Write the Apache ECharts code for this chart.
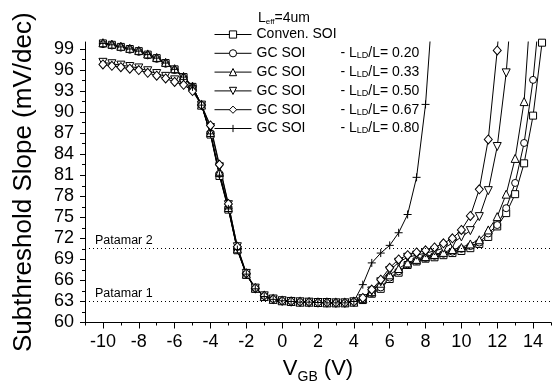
<!DOCTYPE html>
<html>
<head>
<meta charset="utf-8">
<script src="https://cdn.jsdelivr.net/npm/echarts@6/dist/echarts.min.js"></script>
<style>
  html, body { margin: 0; padding: 0; background: #fff; }
  #chart { width: 554px; height: 385px; }
</style>
</head>
<body>
<div id="chart"></div>
<script>
// gate bias values (V)
var vgb = [-10, -9.5, -9, -8.5, -8, -7.5, -7, -6.5, -6, -5.5, -5, -4.5, -4, -3.5, -3, -2.5, -2, -1.5, -1, -0.5,
  0, 0.5, 1, 1.5, 2, 2.5, 3, 3.5, 4, 4.5, 5, 5.5, 6, 6.5, 7, 7.5, 8, 8.5, 9, 9.5,
  10, 10.5, 11, 11.5, 12, 12.5, 13, 13.5, 14, 14.5];

// subthreshold slope (mV/dec)
var conven = [99.8, 99.6, 99.3, 99.0, 98.7, 98.2, 97.7, 97.0, 96.1, 95.0, 93.6, 91.0, 86.8, 80.9, 76.1, 70.3, 66.8, 64.8, 63.7, 63.3,
  63.1, 63.0, 62.9, 62.9, 62.85, 62.8, 62.8, 62.8, 62.9, 63.2, 64.1, 64.8, 66.2, 67.1, 68.2, 68.7, 69.1, 69.3, 69.6, 69.9,
  70.2, 70.6, 71.2, 72.2, 73.7, 75.6, 78.3, 82.7, 89.5, 99.9];
var gc020 = [99.7, 99.5, 99.2, 98.9, 98.6, 98.1, 97.6, 96.9, 96.0, 94.9, 93.5, 91.0, 87.0, 81.2, 76.3, 70.4, 66.9, 64.8, 63.7, 63.3,
  63.1, 63.0, 62.9, 62.9, 62.85, 62.8, 62.8, 62.8, 62.9, 63.3, 64.2, 65.0, 66.4, 67.3, 68.3, 68.8, 69.2, 69.5, 69.8, 70.1,
  70.5, 70.9, 71.4, 72.7, 73.9, 76.3, 79.9, 85.6, 94.6, 108];
var gc033 = [99.9, 99.7, 99.4, 99.1, 98.8, 98.3, 97.8, 97.1, 96.2, 95.1, 93.7, 91.0, 87.1, 81.4, 76.4, 70.5, 66.9, 64.9, 63.7, 63.3,
  63.1, 63.0, 62.9, 62.9, 62.85, 62.8, 62.8, 62.8, 62.9, 63.4, 64.4, 65.6, 66.8, 67.7, 68.5, 69.0, 69.4, 69.7, 70.0, 70.4,
  70.7, 71.2, 71.8, 73.2, 75.1, 78.3, 83.4, 91.5, 110];
var gc050 = [97.1, 96.9, 96.7, 96.5, 96.3, 95.9, 95.5, 95.1, 94.6, 94.1, 93.2, 91.0, 87.8, 82.2, 76.8, 70.8, 67.0, 64.9, 63.8, 63.35,
  63.1, 63.0, 62.95, 62.9, 62.85, 62.85, 62.8, 62.8, 62.95, 63.4, 64.5, 65.8, 67.4, 68.6, 69.3, 69.6, 69.9, 70.2, 70.6, 71.3,
  72.2, 73.1, 75.1, 78.8, 85.1, 95.6, 112];
var gc067 = [96.8, 96.6, 96.4, 96.2, 96.0, 95.6, 95.2, 94.8, 94.3, 93.9, 93.0, 91.0, 88.1, 82.5, 76.9, 70.8, 67.0, 64.9, 63.8, 63.35,
  63.1, 63.0, 62.95, 62.9, 62.85, 62.85, 62.8, 62.8, 62.95, 63.5, 64.7, 66.1, 67.8, 69.0, 69.6, 70.0, 70.3, 70.7, 71.3, 72.0,
  73.2, 75.2, 79.0, 86.1, 98.8, 115];
var gc080 = [99.8, 99.6, 99.3, 99.0, 98.7, 98.2, 97.7, 97.0, 96.1, 95.0, 93.6, 91.0, 86.9, 81.0, 76.2, 70.4, 66.9, 64.8, 63.7, 63.3,
  63.1, 63.0, 62.9, 62.9, 62.85, 62.8, 62.8, 62.8, 63.0, 65.4, 68.5, 69.9, 71.0, 72.8, 75.4, 80.7, 91.1, 109];

var seriesNames = ['Conven. SOI', 'GC SOI 0.20', 'GC SOI 0.33', 'GC SOI 0.50', 'GC SOI 0.67', 'GC SOI 0.80'];
var seriesData = [conven, gc020, gc033, gc050, gc067, gc080];
var symbols = ['rect', 'circle', 'triangle', 'triangle', 'diamond', 'path://M5,0L5,10M0,5L10,5'];
var rotates = [0, 0, 0, 180, 0, 0];
var sizes = [7, 7, 8, 8, [8, 9], 8];

// reference levels
var patamar = [{ name: 'Patamar 1', value: 63.0 }, { name: 'Patamar 2', value: 70.6 }];

// axis ticks
var xMajor = [-10, -8, -6, -4, -2, 0, 2, 4, 6, 8, 10, 12, 14];
var xMinor = [-11, -10, -9, -8, -7, -6, -5, -4, -3, -2, -1, 0, 1, 2, 3, 4, 5, 6, 7, 8, 9, 10, 11, 12, 13, 14, 15];
var yMajor = [60, 63, 66, 69, 72, 75, 78, 81, 84, 87, 90, 93, 96, 99];
var yMinor = [60, 61.5, 63, 64.5, 66, 67.5, 69, 70.5, 72, 73.5, 75, 76.5, 78, 79.5, 81, 82.5, 84, 85.5, 87, 88.5, 90, 91.5, 93, 94.5, 96, 97.5, 99];

var FONT = 'Liberation Sans, Arial, sans-serif';

function pairs(ys) {
  var out = [];
  for (var i = 0; i < ys.length; i++) {
    out.push([vgb[i], ys[i]]);
  }
  return out;
}

var series = [];
for (var i = 0; i < seriesNames.length; i++) {
  var s = {
    name: seriesNames[i],
    type: 'line',
    data: pairs(seriesData[i]),
    symbol: symbols[i],
    symbolSize: sizes[i],
    symbolRotate: rotates[i],
    showAllSymbol: true,
    clip: true,
    lineStyle: { color: '#000', width: 1 },
    itemStyle: { color: '#fff', borderColor: '#000', borderWidth: 1 },
    emphasis: { disabled: true }
  };
  if (i == 0) {
    s.markLine = {
      silent: true,
      symbol: 'none',
      lineStyle: { color: '#000', type: [1, 3], width: 1 },
      label: {
        show: true,
        position: 'insideStartTop',
        formatter: '{b}',
        color: '#000',
        fontFamily: FONT,
        fontSize: 12.5,
        distance: [10, 1]
      },
      data: patamar.map(function (p) {
        return { name: p.name, yAxis: p.value };
      })
    };
  }
  series.push(s);
}

var chart = echarts.init(document.getElementById('chart'));
chart.setOption({
  backgroundColor: '#fff',
  animation: false,
  textStyle: { fontFamily: FONT, color: '#000' },
  grid: { left: 85, right: 3, top: 42, bottom: 62.5, containLabel: false, outerBoundsMode: 'none' },
  title: {
    left: 258,
    top: 10,
    padding: 0,
    text: '{m|L}{s|eff}{m|=4um}',
    textStyle: {
      fontWeight: 'normal',
      rich: {
        m: { fontFamily: FONT, fontSize: 14, fontWeight: 'normal', color: '#000', lineHeight: 16 },
        s: { fontFamily: FONT, fontSize: 8, fontWeight: 'normal', color: '#000', lineHeight: 10, verticalAlign: 'bottom' }
      }
    }
  },
  legend: {
    orient: 'vertical',
    left: 214,
    top: 27.5,
    padding: 0,
    itemWidth: 37,
    itemHeight: 9,
    itemGap: 4.8,
    selectedMode: false,
    data: seriesNames,
    lineStyle: { color: '#000', width: 1 },
    itemStyle: { color: '#fff', borderColor: '#000', borderWidth: 1 },
    formatter: function (name) {
      if (name.indexOf('GC SOI') === 0) {
        return '{a|GC SOI}{b|- L}{s|LD}{b|/L= ' + name.slice(7) + '}';
      }
      return '{b|' + name + '}';
    },
    textStyle: {
      rich: {
        a: { fontFamily: FONT, fontSize: 14, color: '#000', width: 84, lineHeight: 14 },
        b: { fontFamily: FONT, fontSize: 14, color: '#000', lineHeight: 14 },
        s: { fontFamily: FONT, fontSize: 9, color: '#000', lineHeight: 9, verticalAlign: 'bottom' }
      }
    }
  },
  xAxis: [{
    type: 'value',
    min: -11,
    max: 15,
    splitLine: { show: false },
    axisLine: { onZero: false, lineStyle: { color: '#000', width: 1 } },
    axisTick: { customValues: xMinor, length: 3, lineStyle: { color: '#000' } },
    axisLabel: { show: false }
  }, {
    type: 'value',
    min: -11,
    max: 15,
    position: 'bottom',
    splitLine: { show: false },
    axisLine: { show: false, onZero: false },
    axisTick: { customValues: xMajor, length: 6, lineStyle: { color: '#000' } },
    axisLabel: { customValues: xMajor, fontSize: 18, color: '#000', fontFamily: FONT, margin: 11 },
    name: '{m|V}{s|GB}{m| (V)}',
    nameLocation: 'middle',
    nameGap: 34,
    nameTextStyle: {
      rich: {
        m: { fontFamily: FONT, fontSize: 22, color: '#000', lineHeight: 24 },
        s: { fontFamily: FONT, fontSize: 14, color: '#000', lineHeight: 14, verticalAlign: 'bottom', padding: [0, 0, -4, 0] }
      }
    }
  }],
  yAxis: [{
    type: 'value',
    min: 60,
    max: 100,
    splitLine: { show: false },
    axisLine: { onZero: false, lineStyle: { color: '#000', width: 1 } },
    axisTick: { customValues: yMinor, length: 3, lineStyle: { color: '#000' } },
    axisLabel: { show: false }
  }, {
    type: 'value',
    min: 60,
    max: 100,
    position: 'left',
    splitLine: { show: false },
    axisLine: { show: false, onZero: false },
    axisTick: { customValues: yMajor, length: 5, lineStyle: { color: '#000' } },
    axisLabel: { customValues: yMajor, fontSize: 18, color: '#000', fontFamily: FONT, margin: 11 },
    name: 'Subthreshold Slope (mV/dec)',
    nameLocation: 'middle',
    nameGap: 48,
    nameTextStyle: { fontFamily: FONT, fontSize: 26, color: '#000' }
  }],
  series: series
});
</script>
</body>
</html>
